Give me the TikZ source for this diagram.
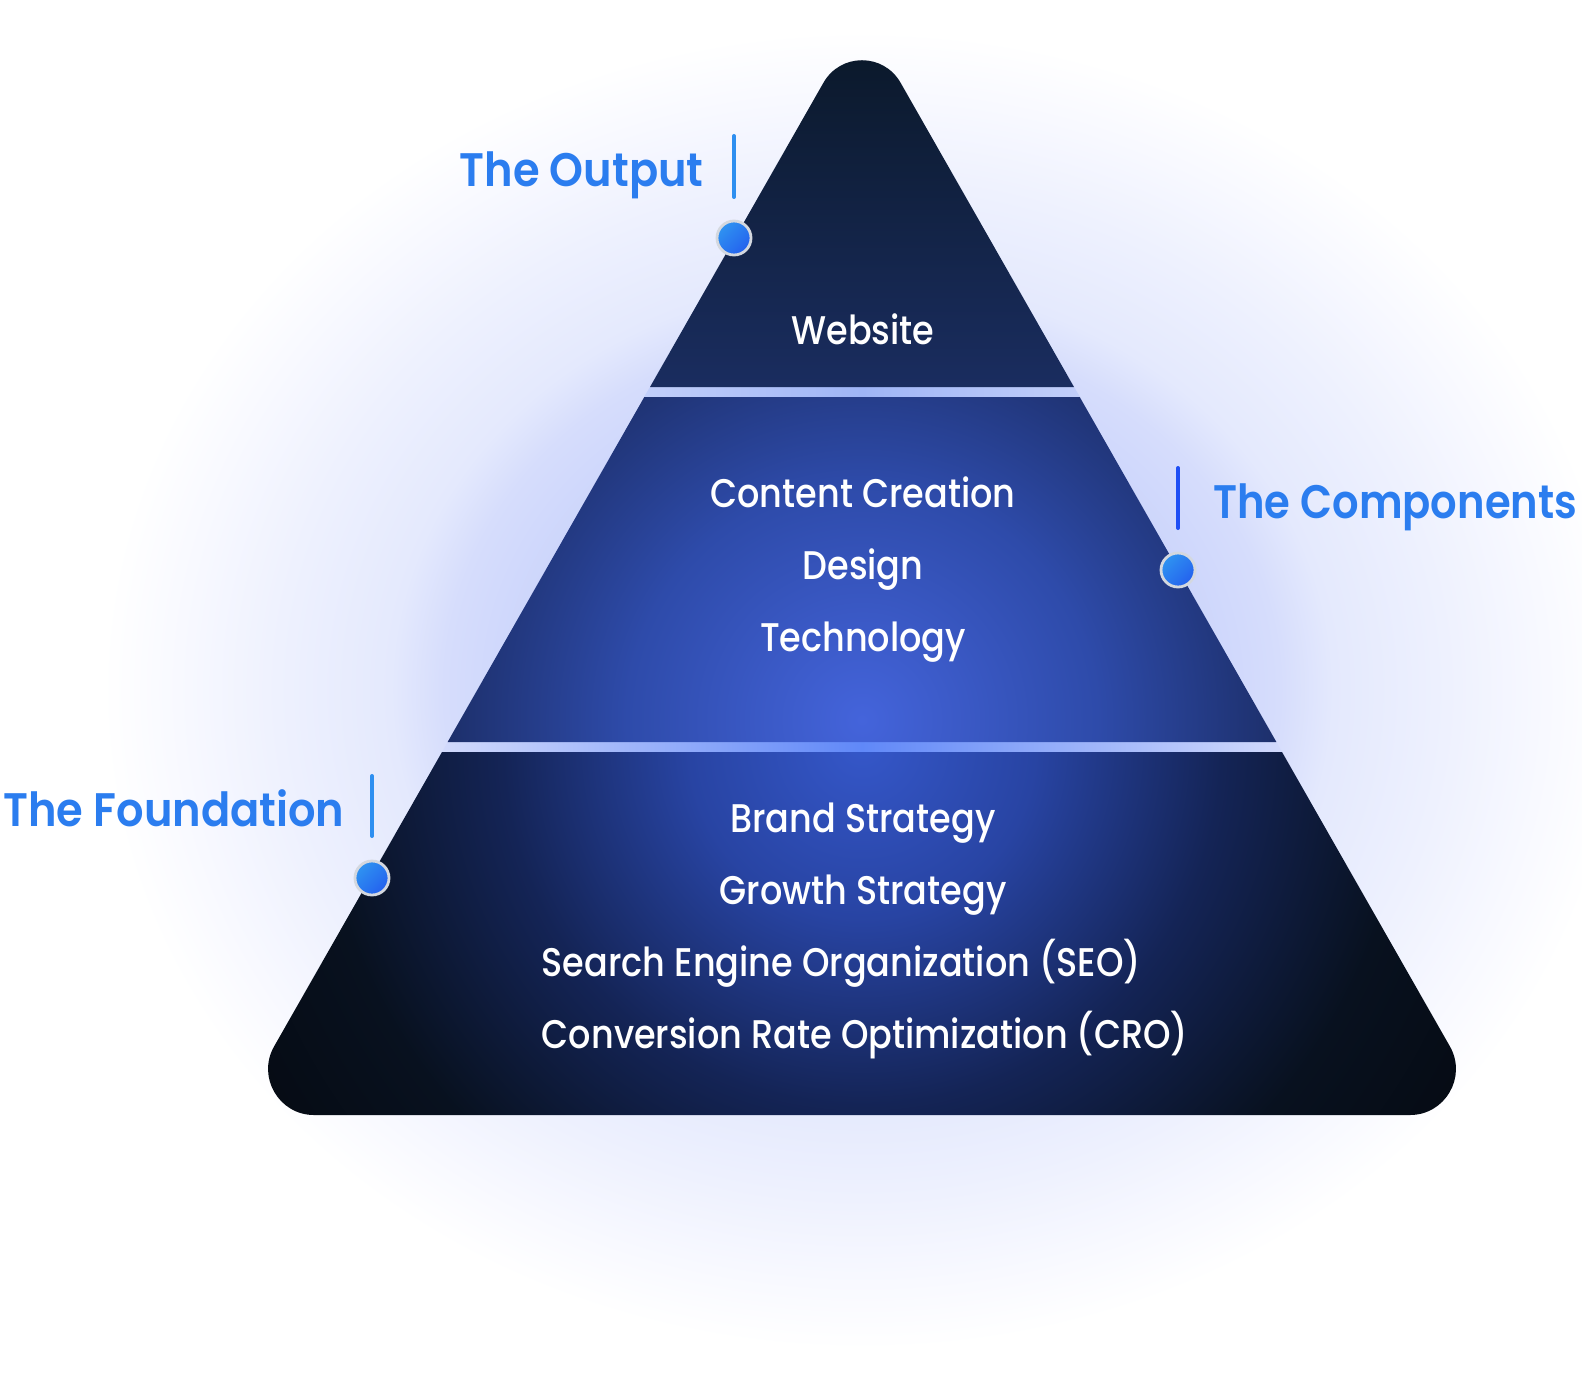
\documentclass[tikz,border=0pt]{standalone}
\usepackage{fontspec}
\setmainfont{Poppins}
\newfontfamily\bodyfont{Poppins Medium}[FakeStretch=0.876]
\newfontfamily\labelfont{Poppins SemiBold}[FakeStretch=0.918]
\newfontfamily\labelfontnarrow{Poppins SemiBold}[FakeStretch=0.886]
\definecolor{glowA}{HTML}{B0BEF9}
\definecolor{glowB}{HTML}{C8D2FB}
\definecolor{glowC}{HTML}{D6DDFC}
\definecolor{glowD}{HTML}{E4E9FD}
\definecolor{glowE}{HTML}{EEF1FE}
\definecolor{glowF}{HTML}{F8F9FF}
\definecolor{midA}{HTML}{4464DB}
\definecolor{midB}{HTML}{2E4BAA}
\definecolor{midC}{HTML}{1C2E68}
\definecolor{botA}{HTML}{3557C9}
\definecolor{botB}{HTML}{2844A3}
\definecolor{botC}{HTML}{142456}
\definecolor{botD}{HTML}{08111F}
\definecolor{botE}{HTML}{050A12}
\definecolor{topA}{HTML}{0B192B}
\definecolor{topB}{HTML}{1A2D60}
\definecolor{labelblue}{HTML}{2B7DEF}
\definecolor{barlight}{HTML}{2E8FF0}
\definecolor{bardeep}{HTML}{1F4FF5}
\definecolor{dotA}{HTML}{2F93F1}
\definecolor{dotB}{HTML}{2461EE}
\definecolor{dotring}{HTML}{D4D8DF}
\definecolor{bandedge}{HTML}{C2CFFA}
\definecolor{bandmid}{HTML}{9FB5F6}
\definecolor{bandtwoedge}{HTML}{D2DAFC}
\definecolor{bandtwomid}{HTML}{6088F8}
\pgfdeclareradialshading{glowshade}{\pgfpointorigin}{color(0bp)=(glowA); color(10bp)=(glowB); color(13.75bp)=(glowC); color(15.5bp)=(glowD); color(19.25bp)=(glowE); color(22.5bp)=(glowF); color(25bp)=(white); color(50bp)=(white)}
\pgfdeclareradialshading{midshade}{\pgfpointorigin}{color(0bp)=(midA); color(12.5bp)=(midB); color(22.5bp)=(midC); color(50bp)=(midC)}
\pgfdeclareradialshading{botshade}{\pgfpointorigin}{color(0bp)=(botA); color(6bp)=(botB); color(12.5bp)=(botC); color(19bp)=(botD); color(25bp)=(botE); color(50bp)=(botE)}
\begin{document}
\begin{tikzpicture}[x=0.5pt,y=-0.5pt,
  bodytext/.style={text=white, inner sep=0pt, font=\bodyfont\fontsize{20}{24}\selectfont},
  labeltext/.style={text=labelblue, inner sep=0pt, font=\labelfont\fontsize{23.5}{28}\selectfont},
  labelnarrow/.style={text=labelblue, inner sep=0pt, font=\labelfontnarrow\fontsize{23.5}{28}\selectfont},
  barline/.style={line width=2pt, line cap=round},
  dotnode/.style={circle, inner sep=0pt, minimum size=17pt, draw=dotring, line width=1.4pt,
     top color=dotA, bottom color=dotB, shading angle=45}]
\useasboundingbox (0,0) rectangle (1582,1380);
\fill[white] (0,0) rectangle (1582,1380);
% glow
\shade[shading=glowshade] (862,690) ellipse [x radius=760, y radius=660];
% bands
\shade[left color=bandedge, right color=bandedge, middle color=bandmid]
  (650,387) -- (1074,387) -- (1080,397) -- (644,397) -- cycle;
\shade[left color=bandtwoedge, right color=bandtwoedge, middle color=bandtwomid]
  (447.6,742) -- (1276.4,742) -- (1282,752) -- (442,752) -- cycle;
% top section
\begin{scope}
\clip (650,387) -- (823.4,82.8) .. controls (840.5,52.7) and (883.5,52.7) .. (900.6,82.8) -- (1074,387) -- cycle;
\shade[top color=topA, bottom color=topB] (640,55) rectangle (1085,390);
\end{scope}
% middle section
\begin{scope}
\clip (644.3,397) -- (1079.7,397) -- (1276.4,742) -- (447.6,742) -- cycle;
\shade[shading=midshade] (862,720) circle [radius=470];
\end{scope}
% bottom section
\begin{scope}
\clip (442,752) -- (1282,752) -- (1449.9,1046.4) .. controls (1467.3,1076.9) and (1445.1,1115) .. (1410,1115)
  -- (314,1115) .. controls (278.9,1115) and (256.7,1076.9) .. (274.1,1046.4) -- cycle;
\shade[shading=botshade] (862,745) circle [radius=720];
\end{scope}
% section texts
\node[bodytext, anchor=base] (web) at (863,344) {Website};
\node[bodytext, anchor=base] (content) at (863,507) {Content Creation};
\node[bodytext, anchor=base] (design) at (863,579) {Design};
\node[bodytext, anchor=base] (tech) at (863,651) {Technology};
\node[bodytext, anchor=base] (brand) at (863,832) {Brand Strategy};
\node[bodytext, anchor=base] (growth) at (863,904) {Growth Strategy};
\node[bodytext, anchor=base] (cro) at (865,1048) {Conversion Rate Optimization (CRO)};
\coordinate (seopos) at (cro.base west);
\node[bodytext, anchor=base west] (seo) at ([yshift=72*0.5pt]seopos) {Search Engine Organization (SEO)};
% labels
\node[labeltext, anchor=base east] (outlabel) at (704,186) {The Output};
\node[labelnarrow, anchor=base west] (complabel) at (1213,518) {The Components};
\node[labeltext, anchor=base west] (foundlabel) at (3,826) {The Foundation};
% bars
\coordinate (ob1) at (734,136); \coordinate (ob2) at (734,197);
\coordinate (cb1) at (1178,468); \coordinate (cb2) at (1178,528);
\coordinate (fb1) at (372,776); \coordinate (fb2) at (372,836);
\draw[barline, barlight] (ob1) -- (ob2);
\draw[barline, bardeep] (cb1) -- (cb2);
\draw[barline, barlight] (fb1) -- (fb2);
% dots
\node[dotnode] (odot) at (734,238) {};
\node[dotnode] (cdot) at (1178,570) {};
\node[dotnode] (fdot) at (372,878) {};
\end{tikzpicture}
\end{document}
